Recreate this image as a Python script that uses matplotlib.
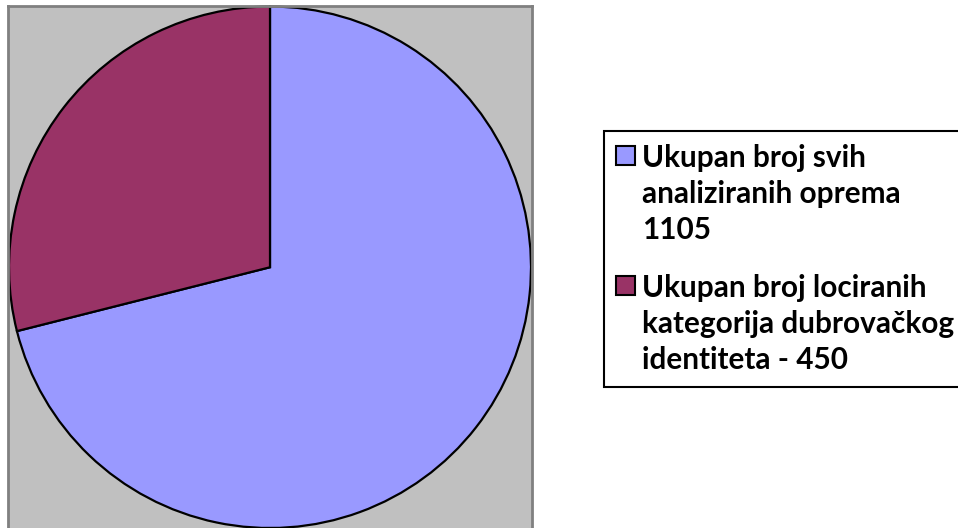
import matplotlib.pyplot as plt
from matplotlib.patches import Rectangle

label_lines = [['Ukupan broj svih', 'analiziranih oprema', '1105'],
               ['Ukupan broj lociranih', 'kategorija dubrovačkog', 'identiteta - 450']]
values = [1105, 450]
colors = ['#9999FF', '#993366']

plt.rcParams['font.family'] = ['Lato', 'DejaVu Sans']

fig = plt.figure(figsize=(9.58, 5.28), dpi=100)
W, H = 958, 528

# plot area (grey box)
ax = fig.add_axes([8 / W, -1 / H, 524 / W, 523 / H])
wedges, _ = ax.pie(values, colors=colors, startangle=90, counterclock=False,
                   radius=1.0, wedgeprops=dict(edgecolor='black', linewidth=1.6))
ax.set_facecolor('#C0C0C0')
ax.set_frame_on(True)
for s in ax.spines.values():
    s.set_edgecolor('#808080')
    s.set_linewidth(2)
ax.set_xticks([])
ax.set_yticks([])
ax.set_aspect('auto')
ax.set_xlim(-262 / 261, 262 / 261)
ax.set_ylim(-262 / 261, 261.5 / 261)

# legend drawn by hand (pixel layout, y from top)
def fx(x):
    return x / W

def fy(y):
    return 1 - y / H

fig.add_artist(Rectangle((fx(604), fy(387)), fx(370), (387 - 131) / H,
                         transform=fig.transFigure, facecolor='white',
                         edgecolor='black', linewidth=1.5, clip_on=False))
entry_top = [167, 297]
line_step = 36
for lines, col, base in zip(label_lines, colors, entry_top):
    fig.add_artist(Rectangle((fx(616), fy(base - 2)), fx(19), 19 / H,
                             transform=fig.transFigure, facecolor=col,
                             edgecolor='black', linewidth=1.5))
    for i, line in enumerate(lines):
        fig.text(fx(642), fy(base + i * line_step), line, fontsize=21.4,
                 fontweight='bold', va='baseline', ha='left')

fig.savefig('out.png', dpi=100)
